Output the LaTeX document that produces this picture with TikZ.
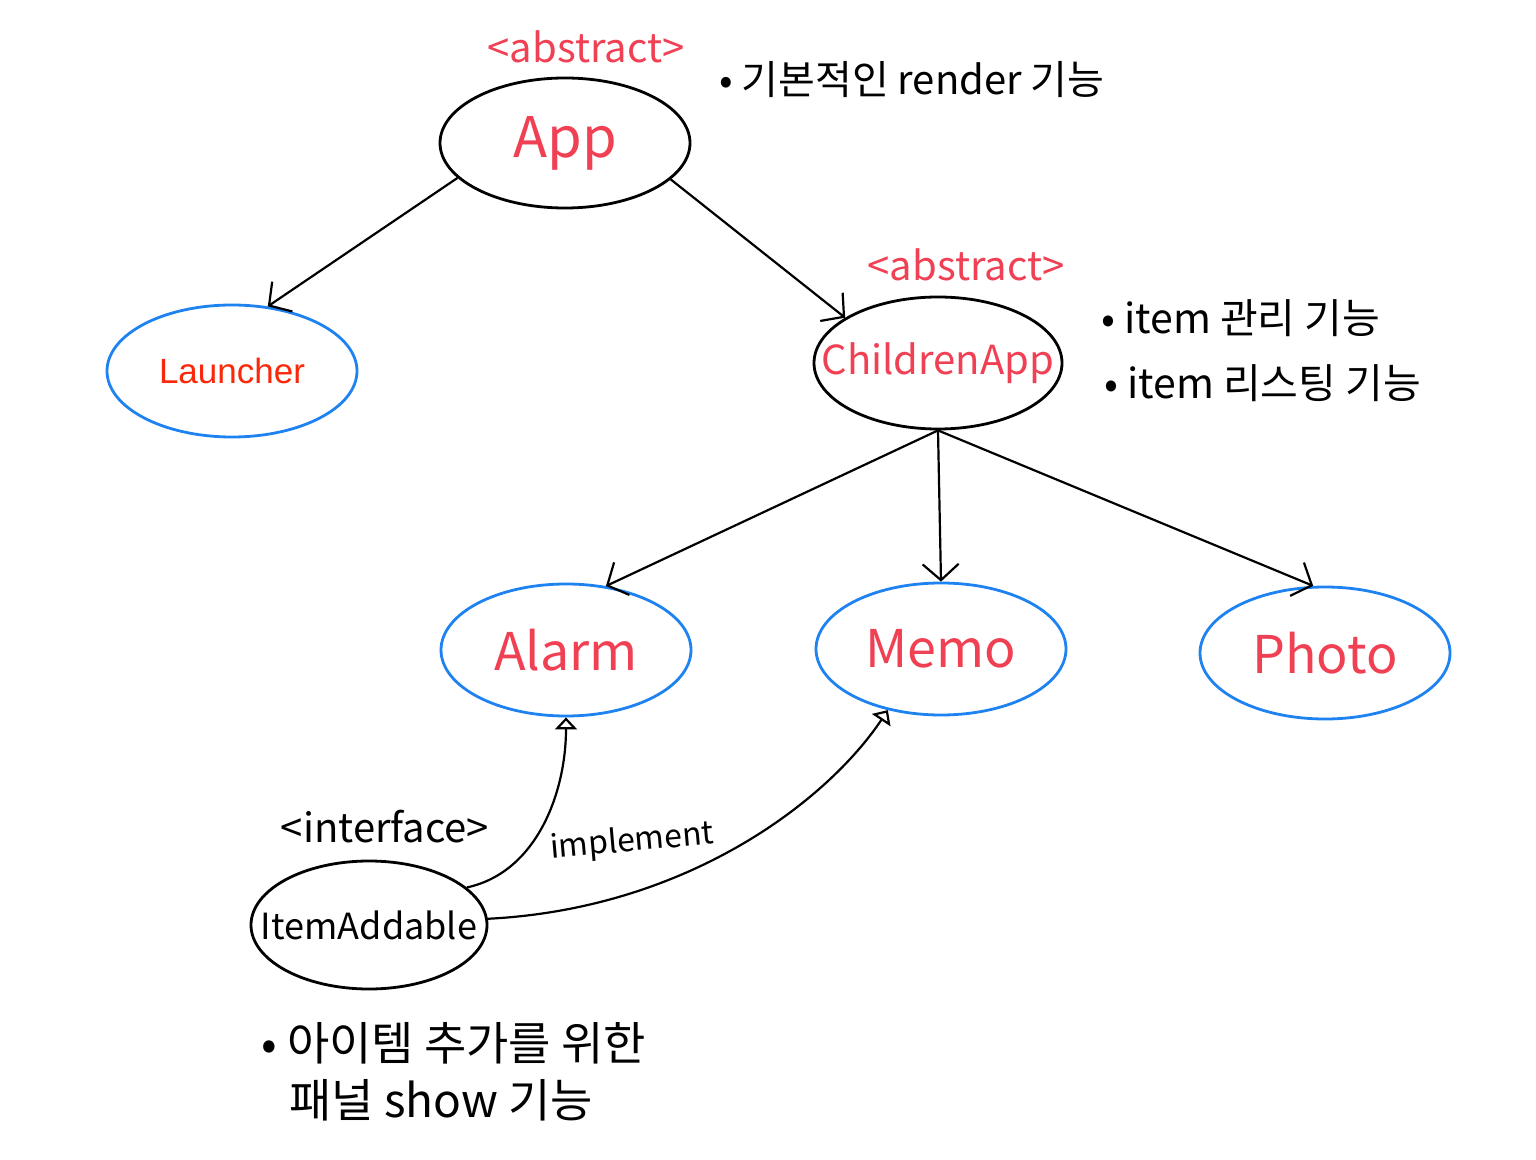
\documentclass[tikz,border=0pt]{standalone}
\usepackage{fontspec}
\setmainfont{Noto Sans CJK KR}
\newfontfamily\arialfont{Liberation Sans}
\usetikzlibrary{shapes.geometric,arrows.meta}
\definecolor{hred}{RGB}{240,64,84}
\definecolor{lred}{RGB}{250,40,10}
\definecolor{eblue}{RGB}{30,130,240}
\tikzset{
  blk/.style={ellipse,draw=black,line width=1.4pt,inner sep=0pt},
  blu/.style={ellipse,draw=eblue,line width=1.4pt,inner sep=0pt},
  hand/.style={text=hred},
  note/.style={anchor=west,text=black},
  conn/.style={line width=1.1pt,-{Straight Barb[length=8pt,width=18pt,line width=1.1pt]}},
  impl/.style={line width=1.1pt,-{Triangle[open,length=6pt,width=11pt,line width=1.1pt]}}
}
\begin{document}
\begin{tikzpicture}[x=0.5pt,y=-0.5pt]
\useasboundingbox (0,0) rectangle (1536,1160);
% nodes
\node[blk,minimum width=125pt,minimum height=65pt,hand,font=\fontsize{28}{30}\selectfont] (App) at (565,143) {App};
\node[blu,minimum width=125pt,minimum height=66pt,text=lred,font=\arialfont\fontsize{17.5}{20}\selectfont] (Launcher) at (232,371) {Launcher};
\node[blk,minimum width=124pt,minimum height=66pt,hand,font=\fontsize{20}{22}\selectfont] (Children) at (938,363) {\makebox[0pt]{ChildrenApp}};
\node[blu,minimum width=125pt,minimum height=66pt,hand,font=\fontsize{26}{28}\selectfont] (Alarm) at (566,650) {Alarm};
\node[blu,minimum width=125pt,minimum height=66pt,hand,font=\fontsize{26}{28}\selectfont] (Memo) at (941,649) {Memo};
\node[blu,minimum width=125pt,minimum height=66pt,hand,font=\fontsize{26}{28}\selectfont] (Photo) at (1325,653) {Photo};
\node[blk,minimum width=118pt,minimum height=64pt,font=\fontsize{18}{20}\selectfont] (Item) at (369,925) {\makebox[0pt]{ItemAddable}};
% labels
\node[hand,font=\fontsize{20}{22}\selectfont] (abs1) at (586,47) {<abstract>};
\node[note,font=\fontsize{20}{22}\selectfont] (n1) at (712,80) {• 기본적인 render 기능};
\node[hand,font=\fontsize{20}{22}\selectfont] (abs2) at (966,265) {<abstract>};
\node[note,font=\fontsize{20.5}{22}\selectfont] (n2) at (1094,318) {• item 관리 기능};
\node[note,font=\fontsize{20.5}{22}\selectfont] (n3) at (1097,383) {• item 리스팅 기능};
\node[font=\fontsize{20}{22}\selectfont] (intf) at (385,827) {<interface>};
\node[font=\fontsize{16}{18}\selectfont,rotate=5] (implab) at (632,842) {implement};
\node[note,font=\fontsize{23}{26}\selectfont] (n4) at (254,1043) {• 아이템 추가를 위한};
\node[note,font=\fontsize{23}{26}\selectfont] (n5) at (282,1100) {패널 show 기능};
% connectors
\draw[conn] (App.198) -- (Launcher.61);
\draw[conn] (App.341) -- (Children.154);
\draw[conn] (Children.south) -- (Alarm.58);
\draw[conn] (Children.south) -- (Memo.north);
\draw[conn] (Children.south) -- (Photo.100);
\draw[impl] (Item.21) .. controls +(70,-15) and +(0,75) .. (Alarm.south);
\draw[impl] (Item.3) .. controls +(200,-10) and +(-60,90) .. (Memo.229);
\end{tikzpicture}
\end{document}
